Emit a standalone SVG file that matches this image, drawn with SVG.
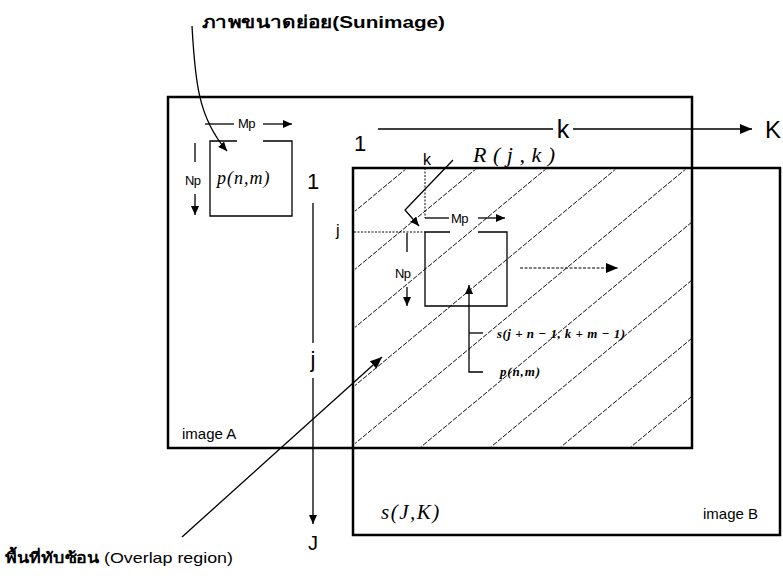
<svg xmlns="http://www.w3.org/2000/svg" width="783" height="581" viewBox="0 0 783 581">
<style>
.sans{font-family:"Liberation Sans",Arial,"Noto Sans",sans-serif;fill:#000}
.ser{font-family:"Liberation Serif","Times New Roman",serif;font-style:italic;fill:#000}
.frame{fill:none;stroke:#000;stroke-width:2.5}
.thin{fill:none;stroke:#000;stroke-width:1.3}
.dot{fill:none;stroke:#000;stroke-width:1;stroke-dasharray:2 1.5}
.hatch{fill:none;stroke:#111;stroke-width:1;stroke-dasharray:5 1.5}
.dash{fill:none;stroke:#000;stroke-width:1.2;stroke-dasharray:3 1.5}
.sm{font-size:13px;letter-spacing:-0.6px}
</style>
<defs>
<marker id="ah" markerUnits="userSpaceOnUse" markerWidth="12" markerHeight="10" refX="12" refY="5" orient="auto"><path d="M0,0 L12,5 L0,10 z" fill="#000"/></marker>
<marker id="as" markerUnits="userSpaceOnUse" markerWidth="9" markerHeight="8" refX="9" refY="4" orient="auto"><path d="M0,0 L9,4 L0,8 z" fill="#000"/></marker>
<clipPath id="ov"><rect x="355" y="169.5" width="336" height="277"/></clipPath>
</defs>

<g id="overlap-hatch" clip-path="url(#ov)">
<path class="hatch" d="M507,85 L-193,666 M577,85 L-123,666 M647,85 L-53,666 M717,85 L17,666 M787,85 L87,666 M857,85 L157,666 M927,85 L227,666 M997,85 L297,666 M1067,85 L367,666 M1137,85 L437,666"/>
</g>

<g id="imageA">
<rect class="frame" x="168" y="97" width="524" height="351"/>
<text class="sans" x="182" y="439" font-size="15">image A</text>
</g>

<g id="imageB">
<rect class="frame" x="353" y="168" width="427" height="367"/>
<text class="sans" x="703" y="519" font-size="15">image B</text>
<text class="ser" x="381" y="519" font-size="21" letter-spacing="1.5">s(J,K)</text>
</g>

<g id="title">
<text class="sans" x="202" y="28" font-size="17" font-weight="bold" textLength="243" lengthAdjust="spacingAndGlyphs">ภาพขนาดย่อย(Sunimage)</text>
</g>

<g id="overlap-label">
<text class="sans" x="5" y="563" font-size="15" textLength="228" lengthAdjust="spacingAndGlyphs"><tspan font-weight="bold">พื้นที่ทับซ้อน</tspan> (Overlap region)</text>
</g>

<g id="subimage">
<path class="thin" d="M237,141 L210,141 L210,216 L292,216 L292,141 L263,141"/>
<text class="ser" x="217" y="184" font-size="18" letter-spacing="1">p(n,m)</text>
<text class="sans sm" x="238" y="128">Mp</text>
<text class="sans sm" x="185" y="185">Np</text>
</g>

<g id="window">
<path class="thin" d="M450,232 L425,232 L425,306 L507,306 L507,232 L478,232"/>
<text class="sans sm" x="451" y="223">Mp</text>
<text class="sans sm" x="395" y="278">Np</text>
<text class="sans" x="423" y="165" font-size="16">k</text>
<text class="sans" x="336" y="236" font-size="16">j</text>
<text class="ser" x="473" y="162" font-size="22" textLength="82">R(j,k)</text>
<text class="ser" x="497" y="338" font-size="13" font-weight="bold" textLength="128">s(j + n − 1, k + m − 1)</text>
<text class="ser" x="500" y="376" font-size="13" font-weight="bold" textLength="40">p(n,m)</text>
</g>

<g id="axes-labels">
<text class="sans" x="360" y="151" font-size="22" text-anchor="middle">1</text>
<text class="sans" x="313" y="189" font-size="22" text-anchor="middle">1</text>
<text class="sans" x="563" y="138" font-size="25" text-anchor="middle">k</text>
<text class="sans" x="765" y="138" font-size="24">K</text>
<text class="sans" x="313" y="367" font-size="22" text-anchor="middle">j</text>
<text class="sans" x="313" y="550" font-size="20" text-anchor="middle">J</text>
</g>

<g id="connectors">
<path class="thin" d="M192,26 C195,80 198,118 227,151" marker-end="url(#as)"/>
<path class="thin" d="M378,129 L553,129 M573,129 L752,129" marker-end="url(#ah)"/>
<path class="thin" d="M313,203 L313,343 M313,378 L313,524" marker-end="url(#as)"/>
<path class="thin" d="M205,124 L234,124"/>
<path class="thin" d="M263,124 L292,124" marker-end="url(#as)"/>
<path class="thin" d="M195,143 L195,162"/>
<path class="thin" d="M195,194 L195,215" marker-end="url(#as)"/>
<path class="dot" d="M425,168 L425,218"/>
<path class="dot" d="M354,232 L425,232"/>
<path class="thin" d="M425,218 L449,218"/>
<path class="thin" d="M478,218 L505,218" marker-end="url(#as)"/>
<path class="thin" d="M407,233 L407,252"/>
<path class="thin" d="M407,287 L407,306" marker-end="url(#as)"/>
<path class="thin" d="M453,160 L405,210 L419,226" marker-end="url(#as)"/>
<path class="dash" d="M520,268 L618,268" marker-end="url(#ah)"/>
<path class="thin" d="M483,372 L469,372 L469,285" marker-end="url(#as)"/>
<path class="thin" d="M469,333 L483,333"/>
<path class="thin" d="M182,537 L382,357" marker-end="url(#ah)"/>
</g>
</svg>
